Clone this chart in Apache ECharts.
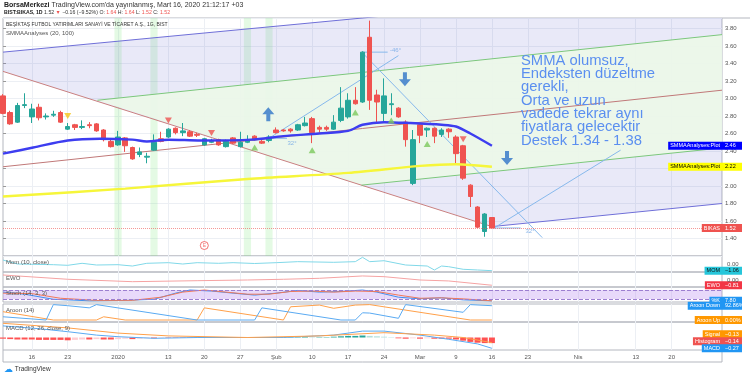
<!DOCTYPE html>
<html>
<head>
<meta charset="utf-8">
<script src="https://cdn.jsdelivr.net/npm/echarts@6/dist/echarts.min.js"></script>
<style>
html,body{margin:0;padding:0;background:#fff;}
#main{width:750px;height:378px;}
</style>
</head>
<body>
<div id="main"></div>
<script>
// trading days (BIST), Dec 2019 - Apr 2020
const dec19 = [10,11,12,13,16,17,18,19,20,23,24,25,26,27,30,31];
const jan20 = [2,3,6,7,8,9,10,13,14,15,16,17,20,21,22,23,24,27,28,29,30,31];
const feb20 = [3,4,5,6,7,10,11,12,13,14,17,18,19,20,21,24,25,26,27,28];
const mar20 = [2,3,4,5,6,9,10,11,12,13,16,17,18,19,20,23,24,25,26,27,30,31];
const apr20 = [1,2,3,6,7,8,9,10,13,14,15,16,17,20,21,22,24,27,28,29,30];

const tickDates = ['2019-12-16','2019-12-23','2020-01-02','2020-01-13','2020-01-20','2020-01-27','2020-02-03','2020-02-10','2020-02-17','2020-02-24','2020-03-02','2020-03-09','2020-03-16','2020-03-23','2020-04-01','2020-04-13','2020-04-20'];
const tickTexts = ['16','23','2020','13','20','27','Şub','10','17','24','Mar','9','16','23','Nis','13','20'];

// OHLC
const opens  = [3.03,2.84,2.73,2.92,2.79,2.90,2.79,2.81,2.84,2.65,2.70,2.67,2.70,2.71,2.64,2.51,2.47,2.55,2.44,2.36,2.33,2.41,2.54,2.56,2.66,2.61,2.62,2.59,2.47,2.50,2.53,2.45,2.55,2.45,2.50,2.57,2.51,2.52,2.64,2.64,2.65,2.64,2.69,2.77,2.67,2.67,2.65,2.75,2.79,2.98,2.96,3.70,3.04,2.83,2.93,2.89,2.73,2.03,2.70,2.64,2.66,2.59,2.65,2.56,2.46,2.01,1.76,1.48,1.64];
const closes = [2.83,2.71,2.92,2.93,2.88,2.78,2.80,2.82,2.73,2.68,2.67,2.68,2.69,2.63,2.53,2.45,2.56,2.46,2.31,2.39,2.34,2.50,2.51,2.65,2.61,2.63,2.57,2.58,2.54,2.51,2.47,2.51,2.49,2.50,2.53,2.53,2.49,2.56,2.61,2.63,2.63,2.70,2.72,2.61,2.65,2.65,2.73,2.89,2.98,2.94,3.53,2.98,2.96,3.03,2.94,2.79,2.53,2.53,2.58,2.66,2.57,2.64,2.62,2.37,2.09,1.88,1.53,1.68,1.52];
const lows   = [2.82,2.70,2.72,2.89,2.72,2.75,2.76,2.79,2.72,2.64,2.64,2.65,2.66,2.62,2.51,2.44,2.46,2.39,2.30,2.33,2.26,2.40,2.50,2.55,2.59,2.57,2.56,2.56,2.46,2.49,2.46,2.44,2.48,2.44,2.49,2.52,2.48,2.50,2.60,2.62,2.61,2.63,2.68,2.49,2.61,2.63,2.64,2.73,2.77,2.93,2.95,2.87,2.73,2.73,2.81,2.78,2.45,2.01,2.49,2.56,2.49,2.56,2.55,2.26,2.07,1.76,1.52,1.42,1.52];
const highs  = [3.05,2.86,2.95,3.06,2.94,2.94,2.83,2.86,2.86,2.72,2.71,2.75,2.73,2.72,2.65,2.53,2.63,2.56,2.45,2.44,2.38,2.59,2.62,2.66,2.67,2.72,2.64,2.61,2.55,2.54,2.54,2.53,2.56,2.62,2.58,2.58,2.53,2.58,2.67,2.65,2.66,2.71,2.79,2.79,2.69,2.69,2.81,3.13,3.06,3.13,3.54,3.89,3.10,3.23,3.06,2.90,2.75,2.64,2.72,2.67,2.67,2.66,2.66,2.58,2.47,2.02,1.77,1.69,1.64];

// SMMA (20) and SMMA (100) [day index, price]
const smma20 = [[0,2.37],[4.2,2.44],[9,2.52],[13.5,2.54],[18,2.53],[20,2.51],[23,2.53],[27.5,2.52],[34.5,2.53],[39,2.57],[44,2.60],[48,2.63],[50,2.70],[53,2.73],[56.5,2.72],[61,2.70],[63,2.68],[65,2.60],[68,2.46]];
const smma100 = [[0,1.88],[17,1.97],[34,2.08],[48,2.15],[58,2.23],[63,2.25],[68,2.22]];

// pitchfork drawing
const outerFill = [[0,3.53],[100,4.31],[100,1.80],[68,1.536],[0,3.31]];
const innerFill = [[13.13,2.98],[100,3.73],[100,2.435],[49.86,2.01]];
const outerUpper = [[0,3.53],[100,4.31]];
const outerLower = [[68,1.536],[100,1.80]];
const handleLine = [[0,3.31],[68,1.536]];
const innerUpper = [[13.13,2.98],[100,3.73]];
const innerLower = [[49.86,2.01],[100,2.435]];
const medianLine = [[0,2.22],[100,3.095]];

// angle lines
const angleLineA = [[37,2.545],[55,3.49]];
const angleLineB = [[49.9,3.53],[75,1.41]];
const angleLineC = [[68.3,1.52],[85.9,2.41]];
const angleRefs = [[[37,2.545],[39.5,2.545]],[[49.9,3.53],[53.5,3.53]],[[68.3,1.52],[72,1.52]]];
const angleTextPos = [[40.2,2.49],[54.6,3.545],[73.3,1.48]];
const angleTexts = ['32°','-46°','32°'];

const arrowsUp = [[36.9,2.82]];
const arrowsDown = [[55.9,3.22],[70.1,2.32]];
const sellMarks = [[23,2.75],[29,2.605],[64,2.535]];
const warnMarks = [[9,2.80]];
const buyMarks = [[35,2.44],[43,2.41],[49,2.84],[54,2.75],[59,2.48]];
const greenBands = [16,21,34,37];
const eventMarks = [[28,1.32]];

// lower panes [day index, value]
const momPts = [[0,0.63],[2,0.0],[7,-0.11],[9,-0.21],[11,0.11],[13,-0.16],[16,-0.11],[18,-0.32],[20,0.11],[23,0.21],[25,0],[27,0.21],[30,0.11],[32,0.21],[35,0.08],[38,0.21],[41,0.37],[46,0.27],[49,0.37],[50,1.06],[51,0.37],[53,0.52],[56,-0.16],[59,-0.32],[60,-0.95],[61,-0.32],[62,-0.43],[64,-0.84],[66,-0.95],[68,-1.06]];
const ewoPts = [[0,0.77],[9,0.11],[18,-0.26],[27,-0.11],[34,0],[39,0.11],[44,0.26],[50,0.62],[53,0.51],[58,0],[62,-0.15],[68,-0.81]];
const stochK = [[0,66],[3,52],[7,18],[12,8],[17,11],[21,18],[24,59],[26,80],[29,73],[32,59],[35,46],[38,59],[41,77],[44,66],[47,70],[50,80],[52,66],[55,32],[58,21],[61,28],[64,14],[68,7.8]];
const stochD = [[0,59],[4,56],[8,25],[13,11],[18,11],[22,32],[25,66],[28,80],[31,66],[34,52],[37,52],[40,70],[43,73],[46,66],[49,73],[52,70],[55,46],[58,25],[61,28],[64,21],[68,8]];
const aroonUp = [[0,54],[7,0],[13,0],[14,21],[16,7],[17,0],[27,0],[28,79],[39,0],[40,86],[44,97],[46,76],[49,97],[51,100],[65,0],[68,0]];
const aroonDown = [[0,21],[6,0],[7,100],[9,93],[12,79],[13,100],[27,0],[35,0],[36,79],[47,0],[49,0],[50,47],[51,45],[55,11],[56,100],[64,50],[65,100],[68,92.86]];
const macdLine = [[0,0.29],[5,0.22],[9,0.145],[13,0.06],[16,0.02],[21,-0.02],[27,0.0],[34,0.0],[39,0.0],[46,0.06],[50,0.16],[53,0.16],[58,0.06],[62,-0.045],[66,-0.16],[68,-0.27]];
const signalLine = [[0,0.355],[9,0.24],[16,0.11],[23,0.04],[34,0.0],[44,0.04],[53,0.12],[60,0.06],[64,0.0],[68,-0.13]];
const macdHist = [-0.03,-0.04,-0.05,-0.05,-0.05,-0.06,-0.06,-0.06,-0.06,-0.07,-0.06,-0.05,-0.05,-0.04,-0.05,-0.05,-0.04,-0.03,-0.04,-0.03,-0.02,-0.02,-0.01,-0.01,-0.01,-0.01,-0.01,-0.01,-0.01,-0.01,-0.01,0.0,0.0,-0.01,-0.01,-0.01,0.0,0.01,0.01,0.01,0.01,0.01,0.02,0.01,0.01,0.01,0.02,0.03,0.04,0.04,0.05,0.04,0.03,0.02,0.01,-0.02,-0.03,-0.02,-0.03,-0.02,-0.03,-0.03,-0.03,-0.05,-0.08,-0.11,-0.13,-0.14,-0.14];

const FONT = '"Liberation Sans", Arial, sans-serif';
const pad = n => (n < 10 ? '0' : '') + n;
const categories = [];
[[2019,12,dec19],[2020,1,jan20],[2020,2,feb20],[2020,3,mar20],[2020,4,apr20]].forEach(([y,m,days]) => {
    days.forEach(d => categories.push(y + '-' + pad(m) + '-' + pad(d)));
});
const tickMap = {};
tickDates.forEach((d, i) => tickMap[d] = tickTexts[i]);
const isTick = i => tickMap[categories[i]] !== undefined;

const chart = echarts.init(document.getElementById('main'));

const L = 3, R = 28;
const panes = [
    {top: 18, height: 238},
    {top: 256, height: 16},
    {top: 272, height: 15},
    {top: 287, height: 15},
    {top: 304, height: 18},
    {top: 322, height: 28}
];
const grid = panes.map(p => ({left: L, right: R, top: p.top, height: p.height, show: true, borderColor: '#b4b7bf', borderWidth: 1}));

const xAxis = panes.map((p, g) => ({
    type: 'category', gridIndex: g, data: categories, boundaryGap: false,
    axisLine: {show: false}, axisTick: {show: false},
    axisLabel: g === 5 ? {interval: i => isTick(i), formatter: v => tickMap[v] || '', fontSize: 6, color: '#555', margin: 4, fontFamily: FONT} : {show: false},
    splitLine: {show: true, interval: i => isTick(i), lineStyle: {color: '#eceff4', width: 1}}
}));
xAxis.push({type: 'value', gridIndex: 0, min: 0, max: categories.length - 1, show: false});
const XV = 6;

const yAxis = [
    {type: 'value', gridIndex: 0, position: 'right', min: 1.2, max: 3.92, interval: 0.2,
     axisLine: {show: false}, axisTick: {show: true, length: 3, lineStyle: {color: '#999'}},
     axisLabel: {fontSize: 6, color: '#555', margin: 3, showMinLabel: false, showMaxLabel: false, formatter: v => v.toFixed(2), fontFamily: FONT},
     splitLine: {lineStyle: {color: '#eceff4'}}},
    {type: 'value', gridIndex: 1, min: -1.27, max: 1.27, show: false},
    {type: 'value', gridIndex: 2, min: -1.08, max: 1.23, show: false},
    {type: 'value', gridIndex: 3, min: 0, max: 100, show: false},
    {type: 'value', gridIndex: 4, min: -13, max: 104, show: false},
    {type: 'value', gridIndex: 5, min: -0.3125, max: 0.3875, show: false}
];

function polySeries(points, fill, z) {
    return {
        type: 'custom', xAxisIndex: XV, yAxisIndex: 0, clip: true, silent: true, z: z,
        data: points,
        renderItem: (params, api) => {
            if (params.dataIndex !== 0) return;
            return {type: 'polygon', shape: {points: points.map(p => api.coord(p))}, style: {fill: fill}};
        }
    };
}
function drawLine(points, color, z, width) {
    return {type: 'line', xAxisIndex: XV, yAxisIndex: 0, data: points, symbol: 'none', silent: true, z: z || 3,
        lineStyle: {color: color, width: width || 1}, clip: true, animation: false};
}
function paneLine(g, points, color) {
    return {type: 'line', xAxisIndex: g, yAxisIndex: g, data: points, symbol: 'none', silent: true,
        lineStyle: {color: color, width: 1}, animation: false};
}

const candleData = opens.map((o, i) => [o, closes[i], lows[i], highs[i]]);
const histData = macdHist.map((v, i) => {
    const prev = i > 0 ? macdHist[i - 1] : v;
    let c;
    if (v >= 0) c = v >= prev ? '#26a69a' : '#b2dfdb';
    else c = v <= prev ? '#ff5252' : '#ffcdd2';
    return {value: v, itemStyle: {color: c}};
});

const series = [
    polySeries(outerFill, 'rgba(110,110,210,0.15)', 1),
    polySeries(innerFill, 'rgba(237,249,233,0.92)', 1),
    {type: 'line', xAxisIndex: XV, yAxisIndex: 0, data: [], silent: true, z: 2,
     markArea: {silent: true, itemStyle: {color: 'rgba(120,230,120,0.2)'},
        data: greenBands.map(i => [{xAxis: i - 0.5}, {xAxis: i + 0.5}])}},
    drawLine(outerUpper, '#6f6fd8'),
    drawLine(outerLower, '#6f6fd8'),
    drawLine(handleLine, '#c98080'),
    drawLine(innerUpper, '#7cc77c'),
    drawLine(innerLower, '#7cc77c'),
    drawLine(medianLine, '#c07878'),
    drawLine(angleLineA, '#86b8ec'),
    drawLine(angleLineB, '#86b8ec'),
    drawLine(angleLineC, '#86b8ec'),
    ...angleRefs.map(r => drawLine(r, '#86b8ec')),
    {type: 'scatter', xAxisIndex: XV, yAxisIndex: 0, data: angleTextPos, symbolSize: 0, silent: true, z: 6,
     label: {show: true, position: 'inside', formatter: p => angleTexts[p.dataIndex], fontSize: 6, color: '#6fa6e6', fontFamily: FONT}},
    {type: 'candlestick', xAxisIndex: 0, yAxisIndex: 0, data: candleData, barWidth: 5, z: 4,
     itemStyle: {color: '#26a69a', color0: '#ef5350', borderColor: '#26a69a', borderColor0: '#ef5350', borderWidth: 1},
     markLine: {symbol: 'none', silent: true, label: {show: false}, animation: false,
        lineStyle: {color: '#ef5350', type: 'dotted', width: 1, opacity: 0.6},
        data: [{yAxis: closes[closes.length - 1]}]}},
    {type: 'line', xAxisIndex: XV, yAxisIndex: 0, data: smma100, symbol: 'none', smooth: 0.3, z: 5,
     lineStyle: {color: '#f6f63a', width: 2.5}},
    {type: 'line', xAxisIndex: XV, yAxisIndex: 0, data: smma20, symbol: 'none', smooth: 0.3, z: 5,
     lineStyle: {color: '#3d3df0', width: 2.5}},
    {type: 'scatter', xAxisIndex: 0, yAxisIndex: 0, data: sellMarks, symbol: 'triangle', symbolRotate: 180, symbolSize: [7, 6], z: 6, itemStyle: {color: '#ef5350'}},
    {type: 'scatter', xAxisIndex: 0, yAxisIndex: 0, data: warnMarks, symbol: 'triangle', symbolRotate: 180, symbolSize: [7, 6], z: 6, itemStyle: {color: '#f5c518'}},
    {type: 'scatter', xAxisIndex: 0, yAxisIndex: 0, data: buyMarks, symbol: 'triangle', symbolSize: [7, 6], z: 6, itemStyle: {color: '#7cc95c'}},
    {type: 'scatter', xAxisIndex: 0, yAxisIndex: 0, data: eventMarks, symbol: 'circle', symbolSize: 8, z: 6,
     itemStyle: {color: '#fff', borderColor: '#ef5350', borderWidth: 1},
     label: {show: true, position: 'inside', formatter: 'E', fontSize: 5, color: '#ef5350'}},
    {type: 'scatter', xAxisIndex: XV, yAxisIndex: 0, data: arrowsUp, z: 7,
     symbol: 'path://M6,0 L12,7 L8,7 L8,14 L4,14 L4,7 L0,7 Z', symbolSize: [12, 14], itemStyle: {color: '#2f74c8'}},
    {type: 'scatter', xAxisIndex: XV, yAxisIndex: 0, data: arrowsDown, z: 7, symbolRotate: 180,
     symbol: 'path://M6,0 L12,7 L8,7 L8,14 L4,14 L4,7 L0,7 Z', symbolSize: [12, 14], itemStyle: {color: '#2f74c8'}},

    paneLine(1, momPts, '#80d8e8'),
    paneLine(2, ewoPts, '#f5a3a3'),
    Object.assign(paneLine(3, stochK, '#3f8ff0'), {
        markArea: {silent: true, itemStyle: {color: 'rgba(180,130,240,0.3)'}, data: [[{yAxis: 20}, {yAxis: 80}]]},
        markLine: {symbol: 'none', silent: true, label: {show: false}, animation: false,
            lineStyle: {color: '#9c7fd0', type: 'dashed', width: 1}, data: [{yAxis: 20}, {yAxis: 80}]}
    }),
    paneLine(3, stochD, '#f0795a'),
    paneLine(4, aroonUp, '#ffa04a'),
    paneLine(4, aroonDown, '#5aaaf2'),
    {type: 'bar', xAxisIndex: 5, yAxisIndex: 5, data: histData, barWidth: 6, silent: true},
    paneLine(5, macdLine, '#5aaaf2'),
    paneLine(5, signalLine, '#ffa04a')
];

chart.setOption({
    animation: false,
    textStyle: {fontFamily: FONT},
    grid: grid, xAxis: xAxis, yAxis: yAxis, series: series
});

// right-side value tags, placed through the axes
const meas = document.createElement('canvas').getContext('2d');
function textW(t, size) { meas.font = size + 'px ' + FONT; return meas.measureText(t).width; }
const axisX = 750 - R;
const TAGF = 5.5;
function tag(y, name, val, bg, fg) {
    const nw = textW(name, TAGF);
    const x0 = axisX - nw - 4;
    return [
        {type: 'rect', z: 60, shape: {x: x0, y: y - 4, width: 742 - x0, height: 8}, style: {fill: bg}},
        {type: 'text', z: 61, x: axisX - 2, y: y, style: {text: name, fill: fg, fontSize: TAGF, fontFamily: FONT, align: 'right', verticalAlign: 'middle'}},
        {type: 'text', z: 61, x: axisX + 3, y: y, style: {text: val, fill: fg, fontSize: TAGF, fontFamily: FONT, align: 'left', verticalAlign: 'middle'}}
    ];
}
const py = (axis, v) => chart.convertToPixel({yAxisIndex: axis}, v);
const lastOf = a => a[a.length - 1][1];

const macdY = py(5, lastOf(macdLine));
const histY = Math.min(py(5, macdHist[macdHist.length - 1]), macdY - 7);
const sigY = Math.min(py(5, lastOf(signalLine)), histY - 7);

const g = [];
g.push(...tag(py(0, lastOf(smma20)), 'SMMAAnalyses:Plot', lastOf(smma20).toFixed(2), '#0000ff', '#fff'));
g.push(...tag(py(0, lastOf(smma100)), 'SMMAAnalyses:Plot', lastOf(smma100).toFixed(2), '#ffff00', '#000'));
g.push(...tag(py(0, closes[closes.length - 1]), 'BIKAS', closes[closes.length - 1].toFixed(2), '#ef5350', '#fff'));
g.push(...tag(py(1, lastOf(momPts)), 'MOM', '−' + Math.abs(lastOf(momPts)).toFixed(2), '#26c6da', '#111'));
g.push(...tag(py(2, lastOf(ewoPts)), 'EWO', '−' + Math.abs(lastOf(ewoPts)).toFixed(2), '#f23645', '#fff'));
g.push(...tag(py(3, lastOf(stochK)), '%K', lastOf(stochK).toFixed(2), '#2196f3', '#fff'));
g.push(...tag(py(4, lastOf(aroonDown)), 'Aroon Down', lastOf(aroonDown).toFixed(2) + '%', '#2196f3', '#fff'));
g.push(...tag(py(4, lastOf(aroonUp)), 'Aroon Up', lastOf(aroonUp).toFixed(2) + '%', '#ff9800', '#fff'));
g.push(...tag(sigY, 'Signal', '−' + Math.abs(lastOf(signalLine)).toFixed(2), '#ff9800', '#fff'));
g.push(...tag(histY, 'Histogram', '−' + Math.abs(macdHist[macdHist.length - 1]).toFixed(2), '#ef5350', '#fff'));
g.push(...tag(macdY, 'MACD', '−' + Math.abs(lastOf(macdLine)).toFixed(2), '#2196f3', '#fff'));
[1, 2].forEach(a => g.push({type: 'text', z: 61, x: axisX + 5, y: py(a, 0), style: {text: '0.00', fill: '#555', fontSize: 6, fontFamily: FONT, verticalAlign: 'middle'}}));

// frame around the date strip
g.push({type: 'line', z: 10, shape: {x1: L, y1: 350, x2: L, y2: 362}, style: {stroke: '#b4b7bf'}});
g.push({type: 'line', z: 10, shape: {x1: axisX, y1: 350, x2: axisX, y2: 362}, style: {stroke: '#b4b7bf'}});
g.push({type: 'line', z: 10, shape: {x1: L, y1: 362, x2: axisX, y2: 362}, style: {stroke: '#b4b7bf'}});
g.push({type: 'line', z: 10, shape: {x1: axisX, y1: 18, x2: 750, y2: 18}, style: {stroke: '#b4b7bf'}});

// header
g.push({type: 'text', z: 61, x: 4, y: 1.5, style: {text: '{b|BorsaMerkezi} TradingView.com\'da yayınlanmış, Mart 16, 2020 21:12:17 +03',
    fontSize: 7, fontFamily: FONT, fill: '#333', rich: {b: {fontWeight: 'bold', fontSize: 7, fontFamily: FONT, fill: '#222'}}}});
g.push({type: 'text', z: 61, x: 4, y: 10.5, style: {text: '{b|BIST:BIKAS, 1D} 1.52 {r|▼} −0.16 (−9.52%) O: {r|1.64} H: {r|1.64} L: {r|1.52} C: {r|1.52}',
    fontSize: 5.2, fontFamily: FONT, fill: '#333', rich: {b: {fontWeight: 'bold', fontSize: 5.2, fontFamily: FONT, fill: '#222'}, r: {fontSize: 5.2, fontFamily: FONT, fill: '#ef5350'}}}});
g.push({type: 'text', z: 61, x: 6, y: 22.5, style: {text: 'BEŞİKTAŞ FUTBOL YATIRIMLARI SANAYİ VE TİCARET A.Ş., 1G, BIST', fontSize: 5, fontFamily: FONT, fill: '#333'}});
g.push({type: 'text', z: 61, x: 6, y: 30, style: {text: 'SMMAAnalyses (20, 100)', fontSize: 6, fontFamily: FONT, fill: '#555'}});

// pane titles
[['Mom (10, close)', 1], ['EWO', 2], ['Stoch (14, 3, 3)', 3], ['Aroon (14)', 4], ['MACD (12, 26, close, 9)', 5]].forEach(([t, p]) => {
    g.push({type: 'text', z: 61, x: 6, y: panes[p].top + 3, style: {text: t, fontSize: 6, fontFamily: FONT, fill: '#555'}});
});

// note
g.push({type: 'text', z: 61, x: 521, y: 54, style: {
    text: 'SMMA olumsuz,\nEndeksten düzeltme\ngerekli,\nOrta ve uzun\nvadede tekrar aynı\nfiyatlara gelecektir\nDestek 1.34 - 1.38',
    fontSize: 14.8, lineHeight: 13.3, fontFamily: FONT, fill: '#5b8ff0'}});

// logo
g.push({type: 'text', z: 61, x: 4, y: 365, style: {text: '{i|☁} TradingView', fontSize: 6.5, fontFamily: FONT, fill: '#333',
    rich: {i: {fontSize: 9, fill: '#2196f3', fontFamily: 'DejaVu Sans'}}}});

chart.setOption({graphic: {elements: g}});
</script>
</body>
</html>
